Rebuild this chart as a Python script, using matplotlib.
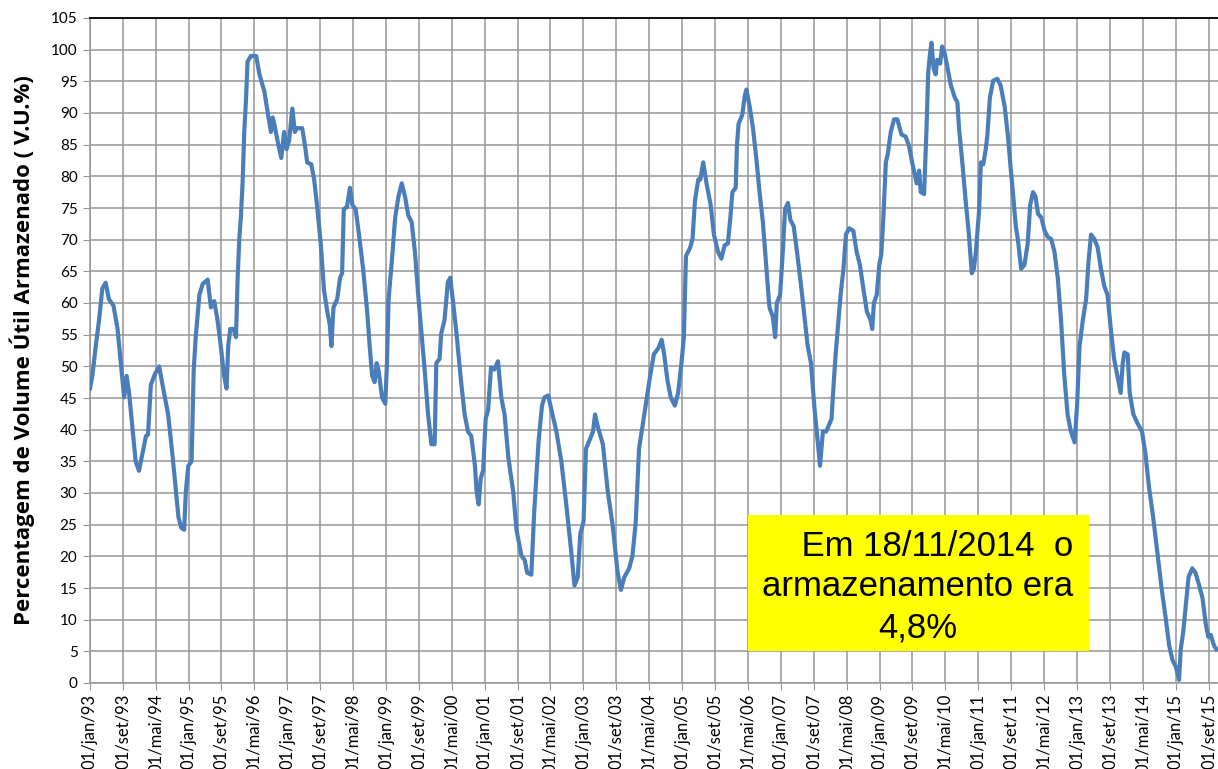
import numpy as np
import pandas as pd
import matplotlib
matplotlib.use("Agg")
import matplotlib.pyplot as plt
from matplotlib.patches import Rectangle

# months since 01/jan/1993 and stored volume (% V.U.)
meses = [
    0.0, 0.57, 1.4, 2.2, 3.0, 3.8, 4.6, 5.7, 6.7, 7.5, 8.3, 8.9, 9.5, 10.3, 11.1, 11.9,
    13.0, 13.6, 14.1, 14.8, 15.8, 16.8, 18.0, 19.0, 20.1, 20.9, 21.5, 22.2, 22.9, 23.3,
    23.9, 24.7, 25.2, 25.7, 26.6, 27.4, 28.6, 29.4, 30.2, 31.0, 31.8, 32.6, 33.2, 33.6,
    34.1, 34.9, 35.5, 35.9, 36.3, 36.7, 37.1, 37.5, 37.9, 38.3, 39.1, 40.4, 41.2, 42.4,
    43.3, 44.0, 44.4,
    44.8, 45.7, 46.5, 47.2, 47.8, 48.4, 49.2, 49.8, 50.4, 51.6, 52.4, 52.8, 53.8, 54.5,
    55.3, 56.1, 56.9, 57.7, 58.3, 58.7, 59.2, 60.1, 60.8, 61.3, 61.7, 62.5, 63.2, 63.8,
    64.6, 65.4, 66.4, 67.4, 68.0, 68.6, 69.2, 69.7, 70.2, 71.0, 71.8, 72.2, 72.6, 73.4,
    74.2, 75.0, 75.8, 76.6, 77.4, 78.2, 79.0, 79.8, 80.6, 81.4, 82.2, 83.0, 83.8, 84.2,
    85.0, 85.4, 86.2, 87.0, 87.6, 88.2, 89.0,
    90.3, 91.1, 91.9, 92.7, 93.6, 94.0, 94.5, 95.0, 95.6, 96.2, 96.8, 97.5, 98.3, 99.2,
    100.0, 100.8, 101.7, 102.9, 103.7, 104.9, 105.7, 106.3, 107.3, 108.0, 108.5, 109.1,
    109.9, 110.5, 111.4, 112.2, 113.4, 114.6, 115.8, 117.0, 117.8, 118.6, 119.2, 120.0,
    120.6, 121.5, 122.3, 122.8, 123.5, 124.7, 125.9, 127.1, 128.3, 129.1, 129.9, 131.1,
    131.9, 132.7, 133.5,
    135.4, 136.2, 137.1, 138.2, 139.0, 139.6, 140.4, 141.2, 142.2, 143.0, 143.8, 144.4,
    144.9, 145.9, 146.5, 147.1, 147.9, 148.4, 149.1, 149.9, 150.9, 151.7, 152.7, 153.5,
    154.3, 155.1, 155.7, 156.2, 157.0, 157.3, 157.7, 158.6, 159.2, 159.6, 160.4, 161.2,
    162.0, 162.8, 163.6, 164.4, 165.2, 166.0, 166.6, 167.0, 167.8, 168.5, 169.0, 169.7,
    170.3, 171.1, 171.9, 172.9, 173.7, 174.5, 175.3, 176.1, 176.9, 177.5, 178.2, 179.0,
    180.3, 180.8, 181.3, 181.9, 182.5, 183.2, 183.8, 184.6, 185.6, 186.4, 187.2, 188.1,
    188.9, 189.8, 190.2, 190.6, 191.3, 191.9, 192.4, 192.9, 193.5, 194.0, 194.7, 195.5,
    196.3, 197.3, 198.3, 199.1, 199.9, 201.0, 201.6, 202.0, 202.8, 203.4, 203.8, 204.2,
    204.6, 205.1, 205.6, 206.0, 206.7, 207.2, 207.8, 208.5, 209.3, 210.3, 210.9, 211.3,
    212.1, 212.9, 213.7, 214.4, 214.9, 215.4, 216.2, 216.6, 217.2, 217.8, 218.2, 218.8,
    219.6, 220.6, 221.4, 222.4, 223.2, 224.0,
    224.4, 225.1, 225.6, 226.4, 227.2, 228.0, 228.6, 229.3, 229.9, 230.5, 231.3, 232.1,
    232.9, 233.7, 234.5, 235.3, 236.1, 236.9, 237.7, 238.5, 239.4, 240.0, 240.6, 241.4,
    242.2, 242.8, 243.4, 244.2, 245.0, 245.8, 246.6, 247.4, 248.2, 249.0, 249.8, 250.6,
    251.1, 251.5, 252.3, 252.8, 253.7, 254.7, 255.8, 256.6, 257.5, 258.5, 259.6, 260.6,
    261.6, 262.4, 263.2, 264.0, 264.8, 265.2, 265.8, 266.5, 267.1, 268.0, 268.8, 269.7,
    270.5, 271.3, 271.9, 272.5, 273.3, 273.9,
]
volume = [
    46.5, 48.5, 53.2, 57.3, 62.3, 63.2, 60.6, 59.6, 55.9, 50.5, 45.1, 48.5, 45.8, 40.4, 35.0, 33.5,
    37.0, 39.0, 39.2, 47.1, 48.8, 50.0, 45.8, 42.4, 35.7, 30.2, 26.2, 24.5, 24.2, 30.2,
    34.3, 35.0, 49.2, 54.6, 61.3, 63.0, 63.7, 59.3, 60.3, 57.3, 53.2, 48.5, 46.5, 53.2,
    55.9, 55.9, 54.6, 64.0, 70.1, 73.8, 78.9, 87.0, 91.7, 98.1, 99.0, 99.0, 96.1, 93.4,
    89.7, 87.0, 89.3,
    88.3, 85.3, 82.9, 87.0, 84.3, 85.6, 90.7, 87.0, 87.6, 87.6, 84.3, 82.2, 81.9, 79.5,
    74.8, 69.4, 62.0, 58.6, 56.6, 53.2, 59.3, 60.6, 64.0, 64.7, 74.8, 75.2, 78.2, 75.5,
    74.8, 70.8, 65.4, 58.6, 53.2, 48.5, 47.5, 50.5, 49.2, 45.1, 44.1, 50.5, 60.6, 66.7,
    73.5, 76.8, 78.9, 76.8, 73.8, 72.8, 68.1, 61.3, 55.2, 49.2, 42.4, 37.7, 37.7, 50.5,
    51.2, 55.2, 57.3, 63.3, 64.0, 60.6, 55.9,
    47.1, 42.4, 39.7, 39.0, 34.3, 30.2, 28.2, 32.3, 33.6, 41.7, 43.1, 49.8, 49.5, 50.8,
    45.1, 42.4, 35.7, 30.2, 24.2, 20.1, 19.4, 17.4, 17.1, 26.9, 32.3, 38.4,
    43.8, 45.1, 45.4, 43.1, 39.7, 35.0, 28.2, 20.8, 15.4, 16.7, 23.5, 25.5,
    37.0, 38.4, 39.7, 42.4, 40.4, 37.7, 30.2, 24.8, 17.4, 14.7, 16.7, 18.1,
    20.1, 25.5, 37.0,
    45.1, 48.5, 51.9, 52.9, 54.2, 51.9, 47.8, 45.1, 43.8, 45.8, 50.5, 54.6,
    67.4, 68.7, 70.1, 76.2, 79.5, 79.5, 82.2, 78.9, 75.5, 70.8, 68.1, 67.0,
    69.1, 69.4, 73.5, 77.5, 78.2, 84.9, 88.3, 89.7, 92.7, 93.7, 91.0, 87.6,
    82.9, 77.5, 72.8, 66.0, 59.3, 57.9, 54.6, 60.0, 61.3, 68.7, 74.8, 75.8,
    73.1, 72.1, 68.1, 62.7, 58.0, 53.2, 50.5, 43.8, 38.4, 34.3, 39.7, 39.7,
    41.7, 47.1, 51.9, 56.6, 61.3, 65.4, 70.8, 71.8, 71.4, 68.1, 66.0, 62.0,
    58.6, 57.3, 55.9, 60.0, 61.3, 66.0, 67.7, 73.5, 82.2, 83.6, 87.0, 89.0,
    89.0, 86.6, 86.3, 84.9, 82.2, 78.9, 80.9, 77.5, 77.2, 87.6, 96.4, 99.1,
    101.1, 97.1, 96.1, 98.4, 97.8, 100.5, 99.5, 97.1, 94.4, 92.4, 91.7, 87.6,
    82.2, 76.2, 70.8, 64.7, 65.4, 68.1, 74.8, 82.2, 81.9, 84.3, 86.6, 92.4,
    95.1, 95.4, 94.4, 91.0, 86.3, 80.2,
    77.5, 72.1, 70.1, 65.4, 66.0, 69.4, 75.5, 77.5, 76.8, 74.1, 73.5, 71.4,
    70.4, 70.1, 68.1, 64.0, 57.3, 48.5, 42.4, 39.7, 38.0, 43.8, 53.2, 57.3,
    60.6, 66.7, 70.8, 70.1, 68.8, 65.4, 62.7, 61.3, 55.9, 51.2, 48.5, 45.8,
    50.5, 52.2, 51.9, 45.8, 42.4, 41.0, 39.7, 36.3, 30.9, 26.2, 20.1, 14.7,
    10.0, 5.9, 3.6, 2.6, 0.5, 5.3, 8.0, 12.7, 16.7, 18.1, 17.4, 15.4,
    13.4, 9.3, 7.3, 7.6, 5.9, 5.3,
]

meses_pt = ["jan", "fev", "mar", "abr", "mai", "jun",
            "jul", "ago", "set", "out", "nov", "dez"]
nota = "    Em 18/11/2014  o\narmazenamento era\n4,8%"
ylabel = "Percentagem de Volume Útil Armazenado ( V.U.%)"

inicio = pd.Timestamp("1993-01-01")
datas = inicio + pd.to_timedelta(np.array(meses) * 30.4375, unit="D")
ticks = pd.date_range("1993-01-01", "2015-09-01", freq="8MS")
tick_labels = [f"01/{meses_pt[t.month - 1]}/{t.year % 100:02d}" for t in ticks]

plt.rcParams["font.family"] = ["Lato", "DejaVu Sans"]

fig = plt.figure(figsize=(12.18, 7.69), dpi=100)
ax = fig.add_axes([90 / 1218, 86 / 769, 1128 / 1218, 665 / 769])

grid_col = "#969696"
ax.plot(datas, volume, color="#4a7ebb", lw=3.0, solid_joinstyle="round", zorder=4)

ax.set_xlim(inicio, pd.Timestamp("2015-11-10"))
ax.set_ylim(0, 105)
ax.set_yticks(np.arange(0, 106, 5))
ax.set_xticks(ticks)
ax.set_xticklabels(tick_labels, rotation=90, fontsize=12, va="top", ha="center")
ax.tick_params(axis="y", labelsize=11, length=5, color=grid_col, pad=4)
ax.tick_params(axis="x", length=5, color=grid_col, pad=3)
ax.grid(True, color=grid_col, lw=1.1)
ax.set_axisbelow(True)

for s in ["left", "bottom"]:
    ax.spines[s].set_color(grid_col)
    ax.spines[s].set_linewidth(1.1)
ax.spines["right"].set_visible(False)
ax.spines["top"].set_color("black")
ax.spines["top"].set_linewidth(1.3)

ax.set_ylabel(ylabel, fontsize=16, fontweight="bold", family=["Open Sans", "DejaVu Sans"])
ax.yaxis.set_label_coords(-0.049, 0.5)

ax.add_patch(Rectangle((0.5833, 0.0481), 0.3023, 0.2045, transform=ax.transAxes,
                       facecolor="#ffff00", edgecolor="none", zorder=3))
ax.text(0.734, 0.1444, nota, transform=ax.transAxes, ha="center", va="center",
        fontsize=25, family="Liberation Sans", linespacing=1.3, zorder=5)

fig.savefig("out.png", dpi=100)
